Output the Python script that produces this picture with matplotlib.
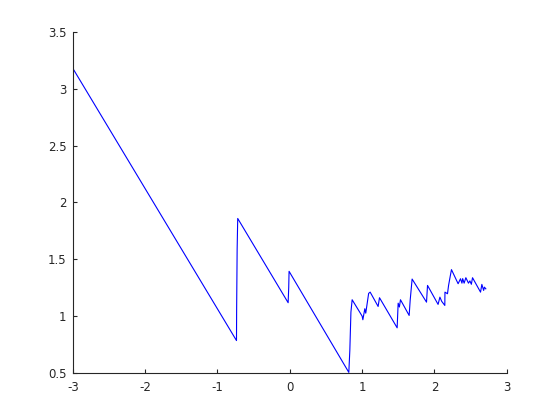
import matplotlib
matplotlib.use("Agg")
import matplotlib.pyplot as plt

# sawtooth path
x_vals = [-3.0, -0.737, -0.735, -0.728, -0.72, -0.023, -0.015, -0.01,
          0.816, 0.83, 0.845, 0.862, 1.0, 1.01, 1.037, 1.05, 1.09, 1.111,
          1.221, 1.24, 1.484, 1.498, 1.515, 1.530, 1.650, 1.664, 1.691,
          1.890, 1.904, 2.05, 2.075, 2.10, 2.143, 2.145, 2.18, 2.195,
          2.22, 2.235, 2.327, 2.36, 2.38, 2.39, 2.41, 2.434, 2.47, 2.49,
          2.51, 2.526, 2.637, 2.655, 2.68, 2.69, 2.71]
y_vals = [3.18, 0.785, 1.056, 1.588, 1.859, 1.118, 1.25, 1.394,
          0.505, 0.70, 1.035, 1.144, 1.0, 0.968, 1.065, 1.026, 1.20, 1.211,
          1.085, 1.162, 0.897, 1.114, 1.08, 1.144, 1.006, 1.138, 1.326,
          1.123, 1.270, 1.103, 1.167, 1.13, 1.094, 1.211, 1.197, 1.27,
          1.358, 1.409, 1.285, 1.329, 1.29, 1.33, 1.29, 1.338, 1.29, 1.31,
          1.28, 1.338, 1.211, 1.279, 1.226, 1.255, 1.24]
x_ticks = [-3, -2, -1, 0, 1, 2, 3]
y_ticks = [0.5, 1, 1.5, 2, 2.5, 3, 3.5]

fig = plt.figure(figsize=(5.6, 4.2), dpi=100)
ax = fig.add_axes([0.13, 0.112, 0.775, 0.812])
ax.plot(x_vals, y_vals, color="#0000ff", lw=0.8)
ax.set_xlim(-3, 3)
ax.set_ylim(0.5, 3.5)
ax.set_xticks(x_ticks)
ax.set_yticks(y_ticks)
ax.set_xticklabels([str(t) for t in x_ticks])
ax.set_yticklabels([f"{t:g}" for t in y_ticks])
for side in ("top", "right"):
    ax.spines[side].set_visible(False)
for side in ("left", "bottom"):
    ax.spines[side].set_color("#262626")
    ax.spines[side].set_linewidth(0.8)
ax.tick_params(direction="in", length=3, width=0.8, colors="#262626",
               labelsize=8.5, top=False, right=False)
ax.tick_params(axis="y", pad=4.5)
ax.tick_params(axis="x", pad=6)

fig.savefig("out.png", dpi=100)
